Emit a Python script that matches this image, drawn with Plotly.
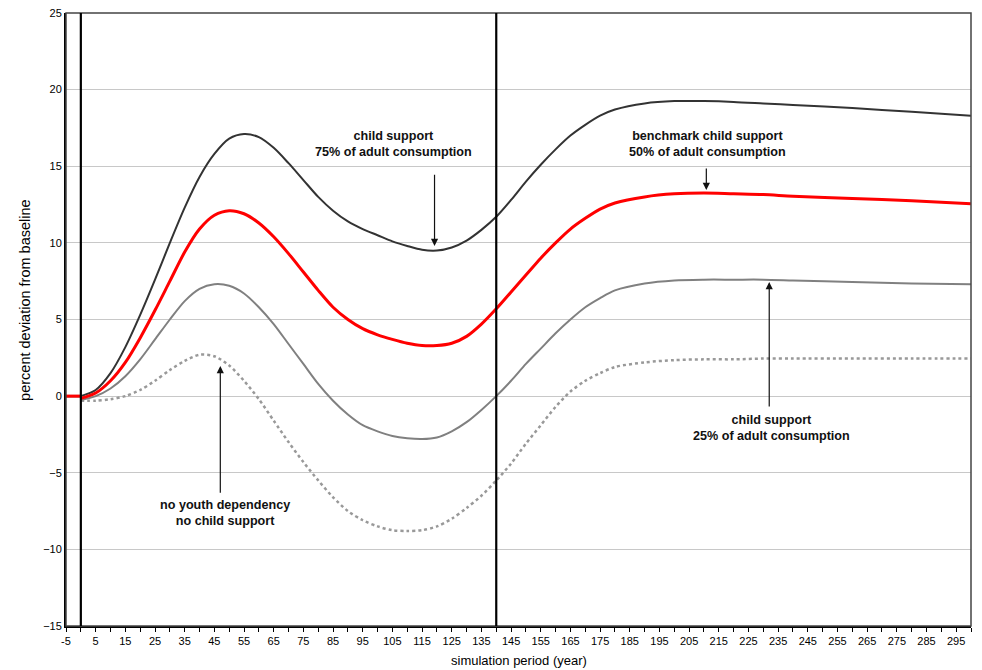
import plotly.graph_objects as go

pre_years = [-5, 0]
pre_values = [0, 0]

years = [0, 5, 10, 15, 20, 25, 30, 35, 40, 45, 50, 55, 60, 65, 70, 75, 80, 85, 90, 95,
         100, 105, 110, 115, 120, 125, 130, 135, 140, 145, 150, 155, 160, 165, 170, 175, 180,
         190, 200, 210, 220, 230, 240, 260, 280, 300]

support_75 = [0, 0.4, 1.5, 3.2, 5.3, 7.6, 10.0, 12.3, 14.3, 15.8, 16.8, 17.1, 16.9, 16.2,
              15.2, 14.1, 13.0, 12.1, 11.4, 10.9, 10.5, 10.1, 9.8, 9.55, 9.5, 9.7, 10.15, 10.85,
              11.7, 12.8, 14.0, 15.1, 16.1, 17.0, 17.7, 18.3, 18.7, 19.1, 19.25, 19.25, 19.2,
              19.1, 19.0, 18.8, 18.55, 18.3]

support_50 = [-0.15, 0.2, 1.0, 2.2, 3.8, 5.6, 7.5, 9.4, 10.9, 11.8, 12.1, 11.9, 11.3, 10.4,
              9.3, 8.1, 6.9, 5.8, 5.0, 4.4, 4.0, 3.7, 3.45, 3.3, 3.3, 3.45, 3.9, 4.7, 5.7, 6.8,
              7.9, 9.0, 10.0, 10.9, 11.6, 12.2, 12.6, 13.0, 13.2, 13.25, 13.2, 13.15, 13.05,
              12.9, 12.75, 12.55]

support_25 = [-0.25, 0.0, 0.5, 1.3, 2.4, 3.7, 5.0, 6.2, 7.0, 7.3, 7.2, 6.7, 5.8, 4.7, 3.4,
              2.1, 0.8, -0.3, -1.2, -1.9, -2.3, -2.6, -2.75, -2.8, -2.7, -2.3, -1.7, -0.9,
              0.0, 1.0, 2.1, 3.1, 4.1, 5.0, 5.8, 6.4, 6.9, 7.35, 7.55, 7.6, 7.6, 7.6, 7.55,
              7.45, 7.35, 7.3]

no_youth = [-0.3, -0.3, -0.2, 0.0, 0.4, 1.0, 1.7, 2.3, 2.7, 2.6, 2.0, 1.0, -0.2, -1.6,
            -3.0, -4.3, -5.5, -6.6, -7.5, -8.1, -8.5, -8.75, -8.8, -8.75, -8.5, -8.0, -7.3,
            -6.5, -5.5, -4.4, -3.1, -1.9, -0.7, 0.3, 1.0, 1.5, 1.9, 2.2, 2.35, 2.4, 2.4,
            2.45, 2.45, 2.45, 2.45, 2.45]

x_tick_labels = list(range(-5, 300, 10))
y_ticks = list(range(-15, 30, 5))
marker_years = [0, 140]

series = [
    (no_youth, dict(color="#999999", width=2.5, dash="dot")),
    (support_25, dict(color="#808080", width=2)),
    (support_75, dict(color="#333333", width=2)),
    (support_50, dict(color="#ff0000", width=3)),
]

fig = go.Figure()
for vals, ln in series:
    fig.add_trace(go.Scatter(x=pre_years, y=pre_values, mode="lines",
                             line=dict(color=ln["color"], width=ln["width"]), hoverinfo="skip"))
    fig.add_trace(go.Scatter(x=years, y=vals, mode="lines",
                             line=dict(shape="spline", smoothing=0.8, **ln)))

tickvals = list(range(-5, 301, 5))
ticktext = [str(v) if v in x_tick_labels else "" for v in tickvals]

fig.update_layout(
    width=982, height=670,
    margin=dict(l=66, r=11, t=13, b=44),
    paper_bgcolor="white", plot_bgcolor="white",
    showlegend=False,
    font=dict(family="Liberation Sans, Arial, sans-serif", size=11, color="black"),
    xaxis=dict(range=[-5, 300], tickvals=tickvals, ticktext=ticktext, ticks="outside",
               ticklen=4, tickcolor="black", showgrid=False, zeroline=False,
               showline=True, linecolor="black", linewidth=2, automargin=False),
    yaxis=dict(range=[-15, 25], tickvals=y_ticks, showgrid=True, gridcolor="#c8c8c8",
               gridwidth=1, zeroline=False, showline=True, linecolor="black", linewidth=2,
               ticks="", automargin=False),
)

# axis titles
fig.add_annotation(xref="paper", yref="paper", x=-0.0453, y=0.532, textangle=-90,
                   text="percent deviation from baseline", showarrow=False,
                   font=dict(size=14.5), xanchor="center", yanchor="middle")
fig.add_annotation(xref="paper", yref="paper", x=0.5, y=-0.0555,
                   text="simulation period (year)", showarrow=False,
                   font=dict(size=13), xanchor="center", yanchor="middle")

# frame top/right
fig.add_shape(type="rect", xref="paper", yref="paper", x0=0, x1=1, y0=0, y1=1,
              line=dict(color="#444444", width=1.5), layer="above")
for yr in marker_years:
    fig.add_shape(type="line", xref="x", yref="paper", x0=yr, x1=yr, y0=0, y1=1,
                  line=dict(color="black", width=2.2), layer="above")

labels = [
    ("child support<br>75% of adult consumption", 105.4, 16.47),
    ("benchmark child support<br>50% of adult consumption", 211.3, 16.47),
    ("child support<br>25% of adult consumption", 232.7, -2.05),
    ("no youth dependency<br>no child support", 48.5, -7.6),
]
for txt, xx, yy in labels:
    fig.add_annotation(x=xx, y=yy, text="<b>" + txt + "</b>", showarrow=False,
                       font=dict(size=12.6, color="#111111"), align="center")

arrows = [
    (119.2, 9.8, 119.2, 14.55),
    (210.8, 13.45, 210.8, 14.95),
    (232, 7.45, 232, -0.78),
    (47, 1.96, 47, -6.4),
]
for hx, hy, tx, ty in arrows:
    fig.add_annotation(x=hx, y=hy, ax=tx, ay=ty, axref="x", ayref="y", xref="x", yref="y",
                       text="", showarrow=True, arrowhead=2, arrowsize=1.2, arrowwidth=1.2,
                       arrowcolor="#111111")

fig.write_html("out.html")
